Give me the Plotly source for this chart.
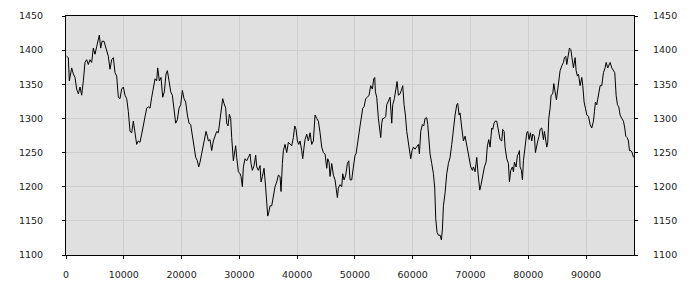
import plotly.graph_objects as go

x_vals = [115, 404, 577, 981, 1269, 1558, 1846, 2135, 2423, 2712, 3000, 3289, 3577, 3866, 4154, 4443,
          4731, 5020, 5308, 5597, 5770, 6001, 6232, 6578, 6925, 7328, 7617, 7905, 8194, 8482, 8771,
          9059, 9347, 9636, 9924, 10213, 10501, 10790, 11078, 11367, 11655, 11944, 12232, 12521,
          12809, 13098, 13386, 13675, 13963, 14252, 14540, 14829, 15117, 15406, 15694, 15867, 16156,
          16444, 16733, 17021, 17310, 17541, 17829, 18118, 18406, 18695, 18983, 19272, 19560, 19849,
          20137, 20426, 20714, 21003, 21291, 21580, 21868, 22157, 22445, 22734, 22965, 23195,
          23484, 23772, 24061, 24234, 24464, 24638, 24926, 25215, 25503, 25792, 26080, 26369, 26657,
          26946, 27119, 27349, 27638, 27811, 28042, 28273, 28503, 28677, 28965, 29138, 29369, 29542,
          29831, 30119, 30292, 30523, 30696, 30985, 31273, 31562, 31850, 32023, 32254, 32543, 32831,
          33004, 33293, 33581, 33754, 33985, 34273, 34562, 34735, 34908, 35081, 35312, 35601, 35889,
          36178, 36466, 36755, 37043, 37216, 37447, 37620, 37909, 38197, 38486, 38774, 39063, 39351,
          39582, 39813, 40044, 40274, 40505, 40794, 40967, 41197, 41371, 41659, 41948, 42236, 42525,
          42813, 42986, 43102, 43390, 43679, 43967, 44256, 44544, 44833, 45121, 45294, 45525, 45698,
          45987, 46275, 46564, 46852, 46967, 47141, 47429, 47718, 47891, 48122, 48410, 48699, 48930,
          49161, 49449, 49737, 50026, 50199, 50429, 50603, 50891, 51180, 51353, 51583, 51872, 52160,
          52449, 52737, 53026, 53257, 53430, 53545, 53776, 54065, 54238, 54468, 54642, 54815, 55045,
          55334, 55507, 55796, 56084, 56373, 56546, 56834, 57123, 57296, 57527, 57815, 58104, 58277,
          58507, 58738, 58969, 59200, 59430, 59661, 59892, 60123, 60411, 60700, 60988, 61161, 61392,
          61681, 61911, 62142, 62431, 62604, 62835, 63008, 63296, 63585, 63816, 63989, 64219, 64450,
          64739, 64970, 65143, 65316, 65605, 65893, 66182, 66470, 66759, 67047, 67336, 67624, 67797,
          68028, 68201, 68490, 68778, 69067, 69355, 69528, 69817, 70047, 70336, 70509, 70798, 71086,
          71317, 71606, 71836, 72125, 72413, 72702, 72933, 73163, 73394,
          73683, 73856, 74086, 74260, 74548, 74837, 75125, 75414, 75587, 75817, 75991, 76279, 76568,
          76741, 76971, 77260, 77433, 77606, 77895, 78125, 78299, 78472, 78587, 78818, 78991, 79164,
          79453, 79741, 79914, 80145, 80376, 80607, 80780, 81068, 81241, 81472, 81645, 81876, 82049,
          82338, 82626, 82799, 83030, 83203, 83376, 83549, 83780, 83953, 84242, 84415, 84646, 84876,
          85107, 85338, 85511, 85800, 86088, 86261, 86492, 86665, 86954, 87127, 87357, 87588, 87819,
          88108, 88281, 88511, 88685, 88973, 89262, 89435, 89665, 89896, 90127, 90415, 90704, 90992,
          91281, 91454, 91627, 91858, 92031, 92204, 92435, 92723, 93012, 93300, 93473, 93762, 93935,
          94166, 94454, 94743, 94974, 95205, 95435, 95666, 95897, 96186, 96474, 96705, 96878, 97109,
          97339, 97512, 97743, 97974, 98204]

y_vals = [1391, 1389, 1355, 1374, 1365, 1360, 1343, 1336, 1346, 1334, 1355, 1382, 1386, 1379, 1386, 1382,
          1403, 1394, 1405, 1415, 1422, 1403, 1413, 1413, 1401, 1391, 1372, 1386, 1389, 1367, 1362,
          1331, 1329, 1343, 1346, 1334, 1329, 1310, 1281, 1279, 1296, 1281, 1262, 1267,
          1265, 1277, 1289, 1298, 1315, 1317, 1315, 1331, 1348, 1358, 1355, 1374, 1355,
          1360, 1331, 1339, 1365, 1370, 1355, 1339, 1334, 1315, 1293, 1298, 1315, 1320,
          1341, 1329, 1324, 1305, 1293, 1291, 1274, 1262, 1243, 1238, 1229, 1236,
          1248, 1258, 1272, 1281, 1274, 1267, 1269, 1253, 1267, 1274, 1281, 1279, 1300,
          1324, 1329, 1322, 1315, 1293, 1289, 1306, 1300, 1272, 1238, 1248, 1260, 1243,
          1222, 1219, 1215, 1200, 1229, 1241, 1238, 1243, 1248, 1234, 1224, 1231, 1246,
          1229, 1224, 1231, 1207, 1215, 1227, 1198, 1176, 1157, 1162, 1172, 1172, 1188,
          1200, 1207, 1217, 1215, 1193, 1234, 1253, 1262, 1250, 1265, 1262, 1260, 1272,
          1289, 1284, 1267, 1262, 1267, 1253, 1241, 1258, 1269, 1277, 1267, 1279, 1262,
          1267, 1293, 1305, 1300, 1296, 1279, 1258, 1250, 1248, 1227, 1241, 1236, 1215,
          1234, 1217, 1210, 1193, 1184, 1198, 1203, 1200, 1219, 1210, 1217, 1234, 1238,
          1210, 1210, 1229, 1246, 1248, 1262, 1279, 1289, 1305, 1315, 1317, 1329, 1331,
          1334, 1348, 1343, 1358, 1360, 1339, 1331, 1300, 1286, 1272, 1293, 1300, 1300,
          1303, 1320, 1327, 1331, 1293, 1320, 1329, 1343, 1354, 1334, 1336, 1343, 1348,
          1320, 1305, 1281, 1267, 1258, 1241, 1253, 1258, 1255, 1258, 1262, 1248, 1281,
          1291, 1289, 1300, 1301, 1291, 1267, 1248, 1234, 1219, 1198, 1153, 1133, 1129,
          1129, 1122, 1138, 1172, 1191, 1219, 1234, 1243, 1262, 1286, 1305, 1320, 1322,
          1305, 1308, 1286, 1267, 1274, 1260, 1248, 1238, 1229, 1224, 1229, 1222, 1243,
          1219, 1195, 1203, 1217, 1229, 1236, 1260, 1269, 1258,
          1286, 1284, 1293, 1296, 1296, 1281, 1269, 1267, 1284, 1281, 1258, 1241, 1234,
          1207, 1224, 1229, 1222, 1236, 1229, 1246, 1248, 1253, 1229, 1224, 1210, 1238,
          1262, 1279, 1281, 1269, 1279, 1267, 1277, 1274, 1250, 1262, 1267, 1274, 1284,
          1286, 1269, 1281, 1265, 1258, 1265, 1300, 1315, 1334, 1336, 1351, 1339, 1327,
          1343, 1358, 1370, 1377, 1382, 1389, 1391, 1379, 1394, 1403, 1401, 1386, 1374,
          1389, 1370, 1362, 1365, 1348, 1360, 1348, 1324, 1315, 1305, 1303, 1291, 1286,
          1296, 1310, 1324, 1320, 1329, 1341, 1348, 1348, 1367, 1374, 1382, 1374, 1379,
          1382, 1374, 1370, 1367, 1334, 1320, 1317, 1305, 1300, 1296, 1286, 1274, 1272,
          1267, 1253, 1253, 1250, 1243]

x_ticks = [0, 10000, 20000, 30000, 40000, 50000, 60000, 70000, 80000, 90000]
y_ticks = [1100, 1150, 1200, 1250, 1300, 1350, 1400, 1450]

font = dict(family="DejaVu Sans", size=9.5, color="#222222")

fig = go.Figure()
fig.add_trace(go.Scatter(x=x_vals, y=y_vals, mode="lines",
                         line=dict(color="black", width=1), showlegend=False, hoverinfo="skip"))
fig.add_trace(go.Scatter(x=x_vals, y=y_vals, mode="lines", yaxis="y2",
                         line=dict(color="rgba(0,0,0,0)", width=0), showlegend=False, hoverinfo="skip"))

fig.update_layout(
    width=700, height=300,
    margin=dict(l=66, r=66, t=10, b=45),
    paper_bgcolor="white", plot_bgcolor="#e0e0e0",
    font=font,
    xaxis=dict(range=[0, 98300], tickvals=x_ticks, ticktext=[str(v) for v in x_ticks],
               showgrid=True, gridcolor="#cecece", gridwidth=1, zeroline=False,
               showline=True, linecolor="black", linewidth=1, mirror=True,
               ticks="outside", ticklen=3, tickcolor="black", ticklabelstandoff=8,
               tickfont=font),
    yaxis=dict(range=[1100, 1450], tickvals=y_ticks, ticktext=[str(v) for v in y_ticks],
               showgrid=True, gridcolor="#cecece", gridwidth=1, zeroline=False,
               showline=True, linecolor="black", linewidth=1, mirror="ticks",
               ticks="outside", ticklen=3, tickcolor="black", ticklabelstandoff=17,
               tickfont=font),
    yaxis2=dict(range=[1100, 1450], tickvals=y_ticks, ticktext=[str(v) for v in y_ticks],
                overlaying="y", side="right", anchor="free", position=1, shift=18,
                showgrid=False, zeroline=False, showline=False, ticks="",
                tickfont=font),
)

fig.write_html("out.html")
